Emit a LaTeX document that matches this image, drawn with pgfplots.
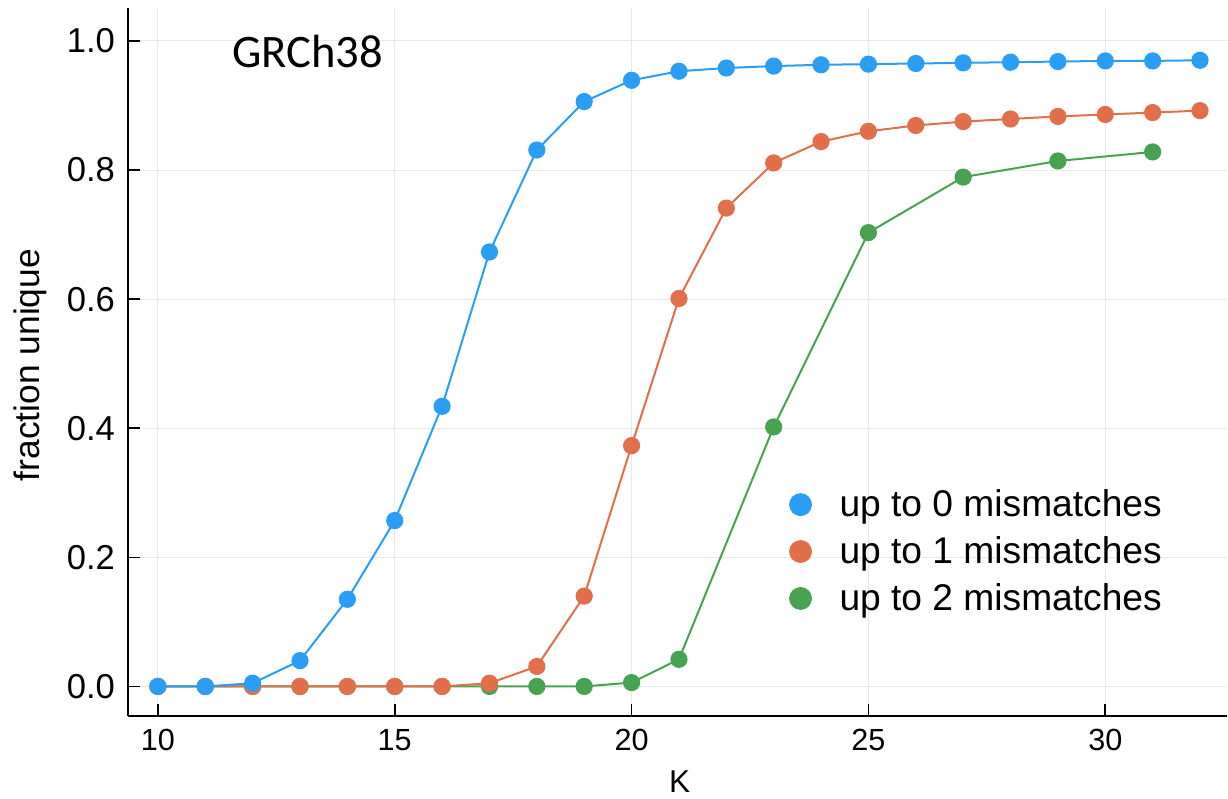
\documentclass[border=0pt]{standalone}
\usepackage{pgfplots}
\pgfplotsset{compat=1.18}
\usepackage{fontspec}
\setmainfont{Liberation Sans}
\newfontfamily\carlito{Carlito}
\definecolor{cblue}{HTML}{2A9DF4}
\definecolor{corange}{HTML}{E16F4A}
\definecolor{cgreen}{HTML}{47A350}
\pgfplotstableread{
x y
10 0
11 0
12 0.005
13 0.040
14 0.135
15 0.257
16 0.434
17 0.673
18 0.831
19 0.906
20 0.939
21 0.953
22 0.958
23 0.961
24 0.963
25 0.964
26 0.965
27 0.966
28 0.967
29 0.968
30 0.969
31 0.969
32 0.970
}\blue
\pgfplotstableread{
x y
10 0
11 0
12 0
13 0
14 0
15 0
16 0
17 0.005
18 0.031
19 0.140
20 0.373
21 0.601
22 0.741
23 0.811
24 0.844
25 0.860
26 0.869
27 0.875
28 0.879
29 0.883
30 0.886
31 0.889
32 0.892
}\orange
\pgfplotstableread{
x y
10 0
11 0
12 0
13 0
14 0
15 0
16 0
17 0
18 0
19 0
20 0.006
21 0.042
23 0.402
25 0.703
27 0.789
29 0.814
31 0.828
}\green
\begin{document}
\begin{tikzpicture}
\begin{axis}[
  scale only axis,
  width=550pt, height=354.5pt,
  xmin=9.367, xmax=32.57,
  ymin=-0.0464, ymax=1.051,
  axis lines=left,
  axis line style={-, line width=1pt, black},
  tick align=inside,
  major tick length=6pt,
  tick style={black, line width=0.8pt},
  xtick={10,15,20,25,30},
  ytick={0,0.2,0.4,0.6,0.8,1.0},
  grid=major,
  grid style={line width=0.5pt, color=black!9},
  /pgf/number format/assume math mode=true,
  yticklabel style={font=\fontsize{17.3}{17.3}\selectfont, xshift=-3pt, /pgf/number format/fixed, /pgf/number format/fixed zerofill, /pgf/number format/precision=1},
  xticklabel style={font=\fontsize{15.3}{15.3}\selectfont, yshift=-3pt},
  xlabel={K},
  ylabel={fraction unique},
  every axis x label/.style={at={(axis description cs:0.502,-0.0917)}, anchor=center, font=\fontsize{15.8}{15.8}\selectfont},
  every axis y label/.style={at={(axis description cs:-0.089,0.496)}, rotate=90, anchor=center, font=\fontsize{17.7}{17.7}\selectfont},
  legend style={draw=none, fill=none, font=\fontsize{18.6}{18.6}\selectfont,
    at={(axis cs:23.2,0.209)}, anchor=west, row sep=5.5pt,
    nodes={inner ysep=1.5pt},
    /tikz/every odd column/.append style={column sep=12pt}},
  legend cell align=left,
]
\addlegendimage{only marks, mark=*, mark size=5.5pt, color=cblue}
\addlegendentry{up to 0 mismatches}
\addlegendimage{only marks, mark=*, mark size=5.5pt, color=corange}
\addlegendentry{up to 1 mismatches}
\addlegendimage{only marks, mark=*, mark size=5.5pt, color=cgreen}
\addlegendentry{up to 2 mismatches}
\addplot[forget plot, color=cgreen, line width=1pt, mark=*, mark size=3.8pt] table[x=x,y=y] {\green};
\addplot[forget plot, color=corange, line width=1pt, mark=*, mark size=3.8pt] table[x=x,y=y] {\orange};
\addplot[forget plot, color=cblue, line width=1pt, mark=*, mark size=3.8pt] table[x=x,y=y] {\blue};
\node[font=\carlito\fontsize{23.3}{23.3}\selectfont] at (axis cs:13.16,0.983) {GRCh38};
\end{axis}
\path[use as bounding box] ([shift={(-64pt,-39.5pt)}]current axis.south west) rectangle ++(614pt,398pt);
\end{tikzpicture}
\end{document}
